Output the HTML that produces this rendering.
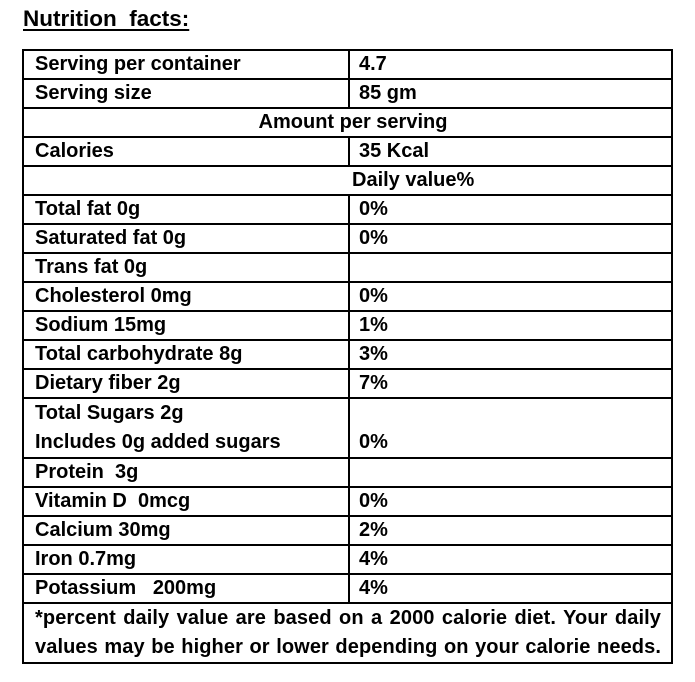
<!DOCTYPE html>
<html><head><style>
body{margin:0;width:695px;height:682px;background:#fff;font-family:"Liberation Sans",Arial,sans-serif;font-weight:bold;color:#000;position:relative;overflow:hidden}
.t{position:absolute;left:23px;top:6px;font-size:22.5px;text-decoration:underline;text-underline-offset:3px}
table{position:absolute;left:22px;top:49px;width:649px;border-collapse:collapse;font-size:20px;table-layout:fixed}
td{border:2px solid #000;height:27px;padding:0 0 0 11px;line-height:27px;vertical-align:bottom;white-space:nowrap;overflow:hidden}
td.v{padding-left:9px}
.c{text-align:center}
.f{padding:0 7px 0 11px;vertical-align:top}
.f div{white-space:nowrap;text-align:justify;text-align-last:justify;line-height:29px;letter-spacing:0.1px;width:626px;overflow:hidden}
</style></head><body>
<div class="t">Nutrition&nbsp; facts:</div>
<table>
<colgroup><col style="width:326px"><col style="width:323px"></colgroup>
<tr><td>Serving per container</td><td class="v">4.7</td></tr>
<tr><td>Serving size</td><td class="v">85 gm</td></tr>
<tr><td colspan="2" class="c">Amount per serving</td></tr>
<tr><td>Calories</td><td class="v">35 Kcal</td></tr>
<tr><td colspan="2" style="padding-left:328px">Daily value%</td></tr>
<tr><td>Total fat 0g</td><td class="v">0%</td></tr>
<tr><td>Saturated fat 0g</td><td class="v">0%</td></tr>
<tr><td>Trans fat 0g</td><td class="v"></td></tr>
<tr><td>Cholesterol 0mg</td><td class="v">0%</td></tr>
<tr><td>Sodium 15mg</td><td class="v">1%</td></tr>
<tr><td>Total carbohydrate 8g</td><td class="v">3%</td></tr>
<tr><td>Dietary fiber 2g</td><td class="v">7%</td></tr>
<tr><td style="height:56px;line-height:29px">Total Sugars 2g<br>Includes 0g added sugars</td><td class="v" style="line-height:29px">0%</td></tr>
<tr><td>Protein&nbsp; 3g</td><td class="v"></td></tr>
<tr><td>Vitamin D&nbsp; 0mcg</td><td class="v">0%</td></tr>
<tr><td>Calcium 30mg</td><td class="v">2%</td></tr>
<tr><td>Iron 0.7mg</td><td class="v">4%</td></tr>
<tr><td>Potassium&nbsp;&nbsp; 200mg</td><td class="v">4%</td></tr>
<tr><td colspan="2" class="f" style="height:58px"><div>*percent daily value are based on a 2000 calorie diet. Your daily</div><div>values may be higher or lower depending on your calorie needs.</div></td></tr>
</table>
</body></html>
